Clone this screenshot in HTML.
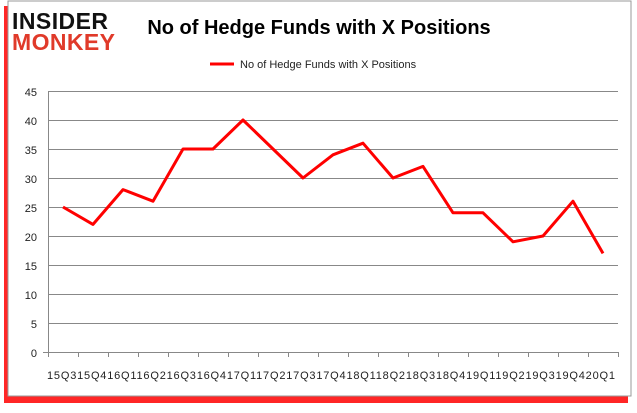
<!DOCTYPE html>
<html><head><style>body{margin:0;background:#fff;width:637px;height:408px;overflow:hidden}</style></head><body>
<svg width="637" height="408" xmlns="http://www.w3.org/2000/svg" font-family="Liberation Sans, sans-serif">
<rect x="4" y="6" width="624" height="397" fill="#f00" opacity="0.85"/>
<rect x="8" y="1" width="623" height="395" fill="#fff" stroke="#999" stroke-width="1"/>
<text x="12" y="29" font-size="23" font-weight="bold" fill="#111" textLength="96">INSIDER</text>
<text x="12" y="50" font-size="23" font-weight="bold" fill="#e03a2a" textLength="103">MONKEY</text>
<text x="319" y="34" font-size="20" font-weight="bold" text-anchor="middle" fill="#000">No of Hedge Funds with X Positions</text>
<line x1="210" y1="64" x2="234" y2="64" stroke="#f00" stroke-width="3"/>
<text x="240" y="68" font-size="11" fill="#222">No of Hedge Funds with X Positions</text>
<g stroke="#888" stroke-width="1">
<line x1="48" y1="91.5" x2="618" y2="91.5"/><line x1="48" y1="120.5" x2="618" y2="120.5"/><line x1="48" y1="149.5" x2="618" y2="149.5"/><line x1="48" y1="178.5" x2="618" y2="178.5"/><line x1="48" y1="207.5" x2="618" y2="207.5"/><line x1="48" y1="236.5" x2="618" y2="236.5"/><line x1="48" y1="265.5" x2="618" y2="265.5"/><line x1="48" y1="294.5" x2="618" y2="294.5"/><line x1="48" y1="323.5" x2="618" y2="323.5"/>
<line x1="48.5" y1="91" x2="48.5" y2="357"/><line x1="43" y1="352.5" x2="618" y2="352.5"/>
<path d="M78.5 352v5M108.5 352v5M138.5 352v5M168.5 352v5M198.5 352v5M228.5 352v5M258.5 352v5M288.5 352v5M318.5 352v5M348.5 352v5M378.5 352v5M408.5 352v5M438.5 352v5M468.5 352v5M498.5 352v5M528.5 352v5M558.5 352v5M588.5 352v5M618.5 352v5"/>
</g>
<g font-size="11" fill="#222" text-anchor="end">
<text x="37" y="96">45</text><text x="37" y="125">40</text><text x="37" y="154">35</text><text x="37" y="183">30</text><text x="37" y="212">25</text><text x="37" y="241">20</text><text x="37" y="270">15</text><text x="37" y="299">10</text><text x="37" y="328">5</text><text x="37" y="357">0</text>
</g>
<text x="47" y="379" font-size="11" fill="#222" textLength="568">15Q315Q416Q116Q216Q316Q417Q117Q217Q317Q418Q118Q218Q318Q419Q119Q219Q319Q420Q1</text>
<polyline fill="none" stroke="#f00" stroke-width="3" stroke-linejoin="round" points="63,207 93,224.4 123,189.6 153,201.2 183,149 213,149 243,120 273,149 303,178 333,154.8 363,143.2 393,178 423,166.4 453,212.8 483,212.8 513,241.8 543,236 573,201.2 603,253.4"/>
</svg>
</body></html>
